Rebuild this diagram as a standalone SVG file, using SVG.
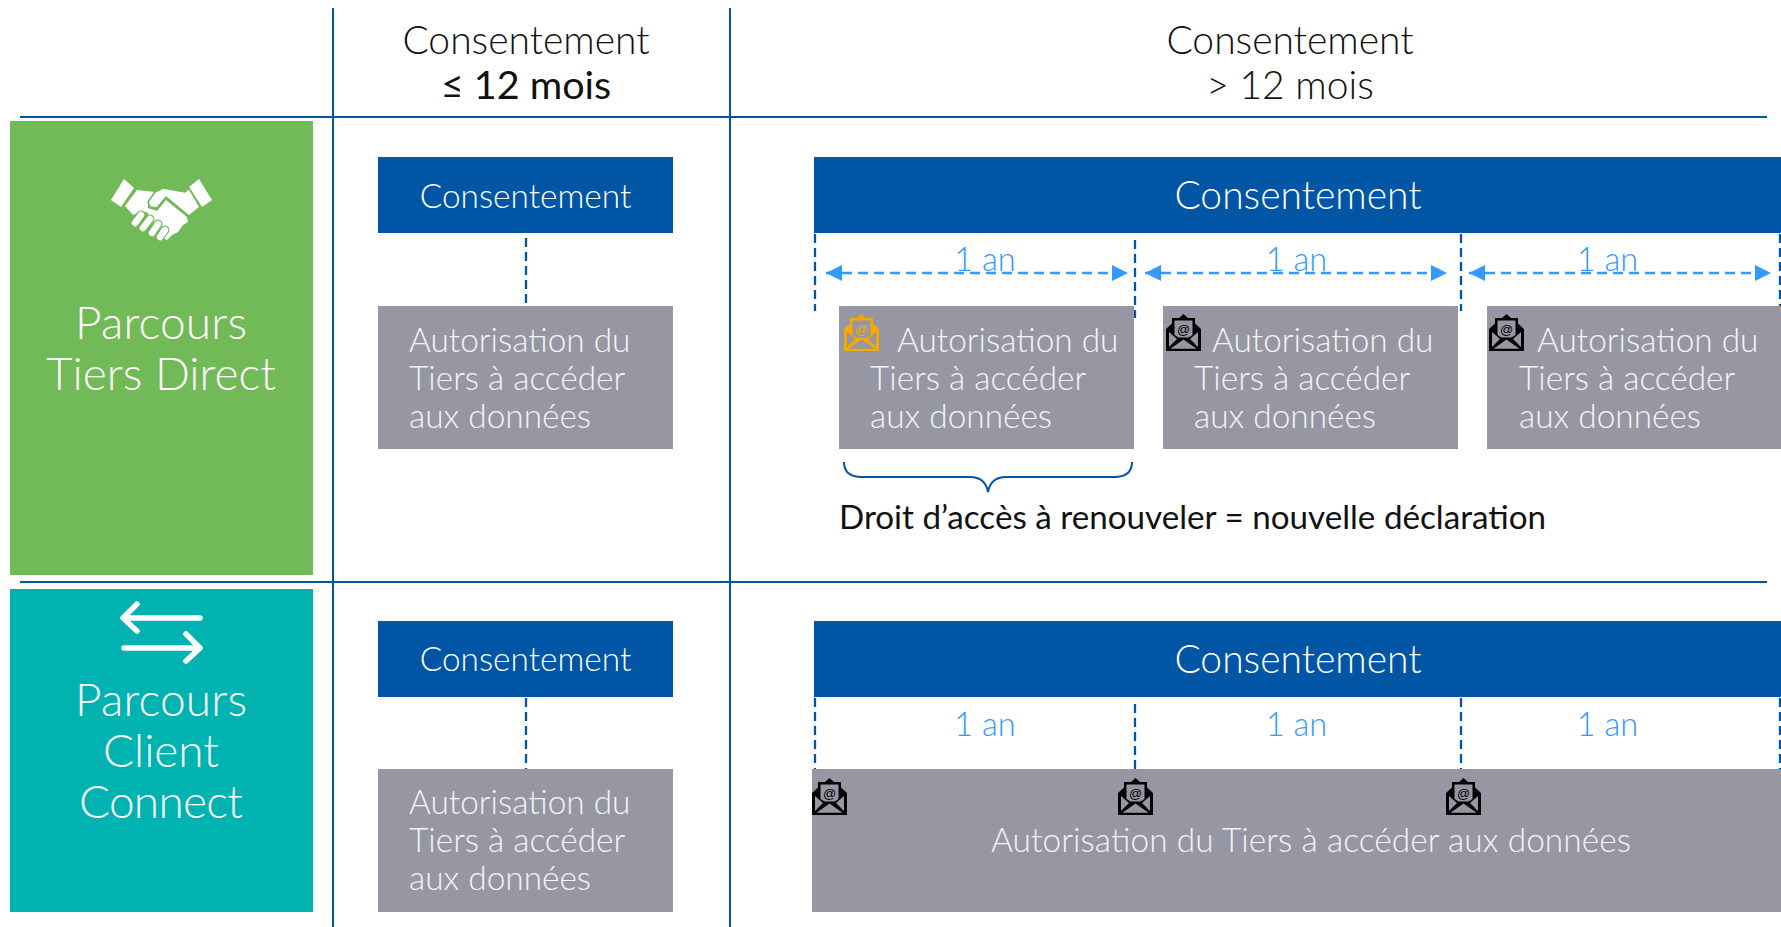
<svg xmlns="http://www.w3.org/2000/svg" width="1781" height="927" viewBox="0 0 1781 927">
<style>
text{font-family:Lato,"Open Sans","Liberation Sans",sans-serif;font-weight:300}
.rule{stroke:#0055a4;stroke-width:2;fill:none}
.tick{stroke:#0055a4;stroke-width:2.3;stroke-dasharray:9 5;fill:none}
.dim{stroke:#3399ff;stroke-width:2.5;stroke-dasharray:10 6;fill:none;marker-start:url(#a);marker-end:url(#a)}
.blue{fill:#0055a4}.grey{fill:#9797a3}
.head{font-size:39px;fill:#111;text-anchor:middle}
.t{font-size:33.4px;fill:#f4f4f4}
.c{font-size:33.4px;fill:#fff;text-anchor:middle}
.cl{font-size:39px;fill:#fff;text-anchor:middle}
.an{font-size:32.6px;fill:#3399ff;text-anchor:middle}
.side{font-size:46px;fill:#fff;text-anchor:middle}
.at{font-size:13px;text-anchor:middle;font-weight:400;font-family:"Liberation Sans",sans-serif;fill:currentColor}
</style>
<defs>
<marker id="a" viewBox="0 0 16 16" refX="16" refY="8" markerWidth="16" markerHeight="16" markerUnits="userSpaceOnUse" orient="auto-start-reverse"><path d="M0 0L16 8L0 16Z" fill="#3399ff"/></marker>
<g id="env">
<path d="M17.5 0L22 4H29V9.5L35 15V37H0V15L6 9.5V4H13Z" fill="currentColor"/>
<path d="M8.5 6.5H26.5V21L22.5 23.5H12.5L8.5 21Z" fill="#9797a3"/>
<path d="M3 18L11 25L3 33ZM32 18L24 25L32 33ZM4.5 34.8L17.5 25.5L30.5 34.8Z" fill="#9797a3"/>
<text class="at" x="17.5" y="20">@</text>
</g>
</defs>
<rect width="1781" height="927" fill="#fff"/>
<g id="connectors">
<path class="rule" d="M333 8V927M730 8V927M20 117H1767M20 582H1767"/>
<path class="tick" d="M526 238V304M526 698V770"/>
<path class="tick" d="M815 234V311M1135 240V318M1461 234V311M1780 234V311"/>
<path class="tick" d="M815 698V769M1135 704V769M1461 698V769M1780 698V769"/>
<path class="dim" d="M826 273H1128"/><path class="dim" d="M1145 273H1447"/><path class="dim" d="M1469 273H1771"/>
<path d="M844 462C844 472 850 477 862 477H970C980 477 986 481 988 492C990 481 996 477 1006 477H1114C1126 477 1132 472 1132 462" fill="none" stroke="#0055a4" stroke-width="2"/>
</g>
<g id="head-short"><text class="head" x="526" y="53.5">Consentement</text><text class="head" x="526" y="99" style="font-weight:400;font-size:39.5px">≤ 12 mois</text></g>
<g id="head-long"><text class="head" x="1290" y="53.5">Consentement</text><text class="head" x="1290" y="99">&gt; 12 mois</text></g>
<g id="lane-direct"><rect x="10" y="121" width="303" height="454" fill="#72b957"/>
<g fill="#fff"><path d="M124 179L134 188L121 207L111 200Z"/><path d="M199 179L212 200L202 207L189 187Z"/>
<path d="M137 190L155 192L148 202L148 208L157 211L166 200L187 217L188 222L183 225L178 232L172 235L167 240L163 238L147 212L140 212L133 215L125 206Z"/>
<path d="M155 192L163 188L185 192L189 188L200 207L189 216L166 197L157 208L150 207L148 202Z" stroke="#72b957" stroke-width="1.6" stroke-linejoin="round"/></g>
<g fill="none" stroke-linecap="round"><path stroke="#72b957" stroke-width="9" d="M135 223L141 215M143 228L150 219M152 233L158 224M160 237L165 230"/><path stroke="#fff" stroke-width="6.5" d="M135 223L141 215M143 228L150 219M152 233L158 224M160 237L165 230"/></g>
<text class="side" x="161" y="339" textLength="172" lengthAdjust="spacing">Parcours</text><text class="side" x="161" y="390" textLength="230" lengthAdjust="spacing">Tiers Direct</text></g>
<g id="lane-connect"><rect x="10" y="589" width="303" height="323" fill="#00b2b0"/>
<g fill="none" stroke="#fff" stroke-width="5.5" stroke-linecap="round" stroke-linejoin="round"><path d="M200 618H124M137 604L123 618L137 631M124 648H200M186 634L200 648L186 661"/></g>
<text class="side" x="161" y="716" textLength="172" lengthAdjust="spacing">Parcours</text><text class="side" x="161" y="767">Client</text><text class="side" x="161" y="818" textLength="164" lengthAdjust="spacing">Connect</text></g>
<g id="c1"><rect class="blue" x="378" y="157" width="295" height="76"/><text class="c" x="525.5" y="207.5">Consentement</text></g>
<g id="a1"><rect class="grey" x="378" y="306" width="295" height="143"/><text class="t" x="409" y="351.5">Autorisation du</text><text class="t" x="409" y="390">Tiers à accéder</text><text class="t" x="409" y="428">aux données</text></g>
<g id="c2"><rect class="blue" x="814" y="157" width="967" height="76"/><text class="cl" x="1298" y="208.5">Consentement</text></g>
<g id="an1"><text class="an" x="985" y="271">1 an</text><text class="an" x="1296.5" y="271">1 an</text><text class="an" x="1607.5" y="271">1 an</text></g>
<g id="a2"><rect class="grey" x="839" y="306" width="295" height="143"/><use href="#env" x="844" y="314" style="color:#f4a900"/><text class="t" x="897" y="351.5">Autorisation du</text><text class="t" x="870" y="390">Tiers à accéder</text><text class="t" x="870" y="428">aux données</text></g>
<g id="a3"><rect class="grey" x="1163" y="306" width="295" height="143"/><use href="#env" x="1166" y="314" style="color:#000"/><text class="t" x="1212" y="351.5">Autorisation du</text><text class="t" x="1194" y="390">Tiers à accéder</text><text class="t" x="1194" y="428">aux données</text></g>
<g id="a4"><rect class="grey" x="1487" y="306" width="294" height="143"/><use href="#env" x="1489" y="314" style="color:#000"/><text class="t" x="1537" y="351.5">Autorisation du</text><text class="t" x="1519" y="390">Tiers à accéder</text><text class="t" x="1519" y="428">aux données</text></g>
<text id="note" x="839" y="529" style="font-size:33.2px;fill:#111;font-weight:400">Droit d’accès à renouveler = nouvelle déclaration</text>
<g id="c3"><rect class="blue" x="378" y="621" width="295" height="76"/><text class="c" x="525.5" y="670.5">Consentement</text></g>
<g id="a5"><rect class="grey" x="378" y="769" width="295" height="143"/><text class="t" x="409" y="814">Autorisation du</text><text class="t" x="409" y="852">Tiers à accéder</text><text class="t" x="409" y="890">aux données</text></g>
<g id="c4"><rect class="blue" x="814" y="621" width="967" height="76"/><text class="cl" x="1298" y="672.5">Consentement</text></g>
<g id="an2"><text class="an" x="985" y="736">1 an</text><text class="an" x="1296.5" y="736">1 an</text><text class="an" x="1607.5" y="736">1 an</text></g>
<g id="a6"><rect class="grey" x="812" y="769" width="969" height="143"/><use href="#env" x="812" y="778" style="color:#000"/><use href="#env" x="1118" y="778" style="color:#000"/><use href="#env" x="1446" y="778" style="color:#000"/><text class="t" x="1311" y="852" text-anchor="middle" textLength="640" lengthAdjust="spacing">Autorisation du Tiers à accéder aux données</text></g>
</svg>
